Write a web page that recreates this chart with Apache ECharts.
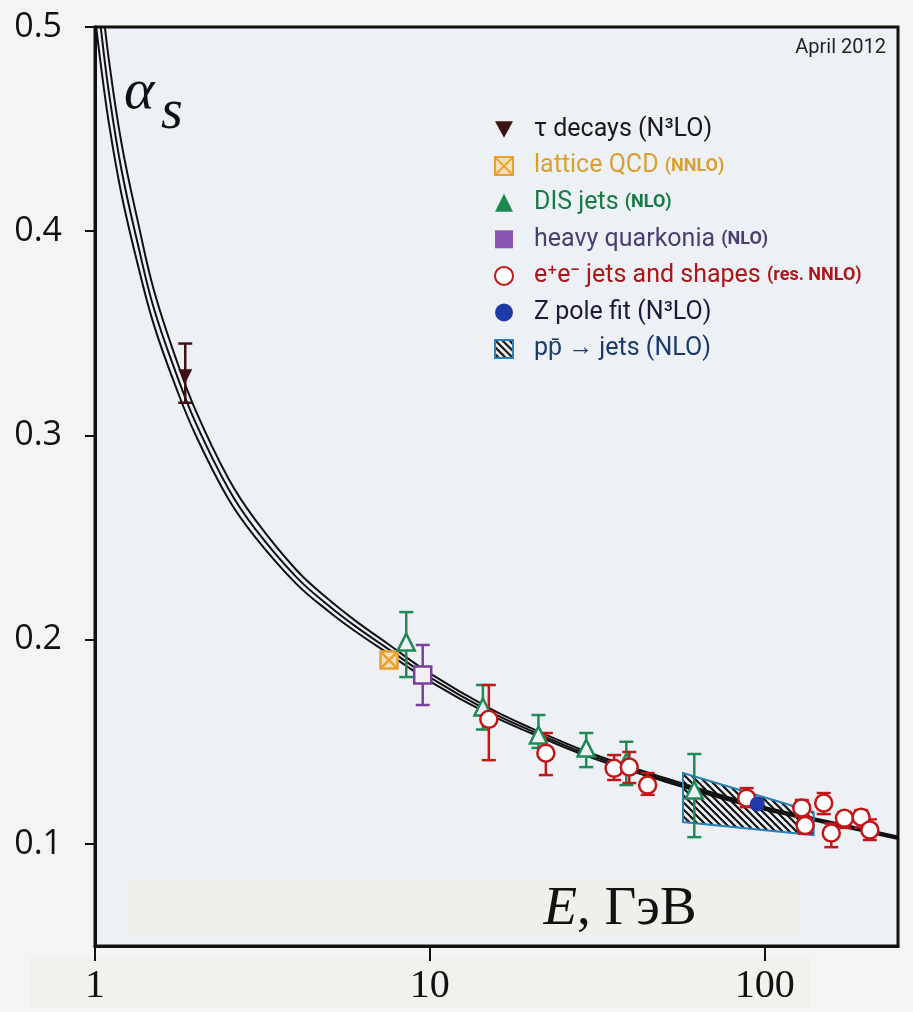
<!DOCTYPE html>
<html>
<head>
<meta charset="utf-8">
<script src="https://cdn.jsdelivr.net/npm/echarts@6/dist/echarts.min.js"></script>
<style>
  html, body { margin: 0; padding: 0; background: #f4f4f4; }
  #main { width: 913px; height: 1012px; }
</style>
</head>
<body>
<div id="main"></div>
<script>
// 坐标轴刻度
var xTicks = [1, 10, 100];
var yTicks = [0.1, 0.2, 0.3, 0.4, 0.5];

// 理论曲线 (读自图片): 中心线和上下边界
var curveE    = [1.0, 1.04, 1.1, 1.2, 1.35, 1.5, 1.75, 2.0, 2.5, 3.0, 4.0, 5.0, 6.0, 7.5, 10, 15, 20, 30, 50, 91.2, 150, 250];
var curveMid  = [0.525, 0.500, 0.468, 0.430, 0.392, 0.362, 0.330, 0.306, 0.274, 0.2545, 0.2305, 0.2165, 0.2065, 0.1955, 0.1815, 0.165, 0.1555, 0.1435, 0.1315, 0.119, 0.111, 0.103];
var curveHigh = [0.548, 0.519, 0.484, 0.443, 0.403, 0.371, 0.337, 0.312, 0.279, 0.259, 0.234, 0.2195, 0.2092, 0.1979, 0.1835, 0.1666, 0.1568, 0.1446, 0.1324, 0.1197, 0.1116, 0.1036];
var curveLow  = [0.505, 0.482, 0.453, 0.418, 0.382, 0.354, 0.323, 0.300, 0.269, 0.2505, 0.2272, 0.2137, 0.204, 0.1933, 0.1796, 0.1635, 0.1543, 0.1425, 0.1307, 0.1183, 0.1104, 0.1024];

// tau decays
var tauE = [1.86];
var tauA = [0.329];
var tauLo = [0.316];
var tauHi = [0.345];

// lattice QCD
var latE = [7.55];
var latA = [0.190];

// DIS jets
var disE  = [8.5, 14.4, 21.1, 29.3, 38.6, 61.6];
var disA  = [0.1988, 0.167, 0.1533, 0.1469, 0.140, 0.1264];
var disLo = [0.1817, 0.156, 0.147, 0.1376, 0.1288, 0.1033];
var disHi = [0.2135, 0.1778, 0.1631, 0.1543, 0.150, 0.144];

// heavy quarkonia
var hqE  = [9.52];
var hqA  = [0.1827];
var hqLo = [0.168];
var hqHi = [0.1974];

// e+e- jets and shapes
var eeE  = [15.0, 22.2, 35.5, 39.4, 44.7, 88.3, 129, 132, 150, 158, 173, 194, 206];
var eeA  = [0.161, 0.1444, 0.137, 0.1376, 0.1288, 0.1224, 0.1176, 0.109, 0.120, 0.1053, 0.1125, 0.1131, 0.1068];
var eeLo = [0.141, 0.1337, 0.1313, 0.1298, 0.124, 0.118, 0.1135, 0.105, 0.1146, 0.0984, 0.1078, 0.108, 0.1019];
var eeHi = [0.1778, 0.1543, 0.1435, 0.145, 0.1347, 0.1273, 0.1215, 0.113, 0.1249, 0.110, 0.1156, 0.1165, 0.112];

// Z pole fit
var zE = [95];
var zA = [0.1195];

// p pbar -> jets 区域 (四个顶点)
var ppE = [57, 140, 140, 57];
var ppA = [0.1347, 0.1156, 0.1043, 0.1107];

var narrow = "Roboto, 'Liberation Sans', sans-serif";
var names = {
	tau: 'τ decays (N³LO)',
	lat: 'lattice QCD (NNLO)',
	dis: 'DIS jets (NLO)',
	hq: 'heavy quarkonia (NLO)',
	ee: 'e⁺e⁻ jets and shapes (res. NNLO)',
	z: 'Z pole fit (N³LO)',
	pp: 'pp̄ → jets (NLO)'
};
var legendRich = {};
legendRich[names.tau] = '{t|τ decays (N³LO)}';
legendRich[names.lat] = '{la|lattice QCD} {las|(NNLO)}';
legendRich[names.dis] = '{di|DIS jets} {dis|(NLO)}';
legendRich[names.hq] = '{hq|heavy quarkonia} {hqs|(NLO)}';
legendRich[names.ee] = '{ee|e⁺e⁻ jets and shapes} {ees|(res. NNLO)}';
legendRich[names.z] = '{z|Z pole fit (N³LO)}';
legendRich[names.pp] = '{pp|pp̄ → jets (NLO)}';

// 图例文字样式
function big(color) {
	return { color: color, fontSize: 25, lineHeight: 20, fontFamily: narrow, padding: [0, 0, 0, 16] };
}
function small(color) {
	return { color: color, fontSize: 18, lineHeight: 20, fontWeight: 'bold', fontFamily: narrow };
}

// 斜线填充
var hatchCanvas = document.createElement('canvas');
hatchCanvas.width = 7;
hatchCanvas.height = 7;
var hctx = hatchCanvas.getContext('2d');
hctx.strokeStyle = '#111';
hctx.lineWidth = 2.2;
hctx.beginPath();
hctx.moveTo(-1, -1); hctx.lineTo(8, 8);
hctx.moveTo(-1, 6); hctx.lineTo(1, 8);
hctx.moveTo(6, -1); hctx.lineTo(8, 1);
hctx.stroke();
var hatch = { image: hatchCanvas, repeat: 'repeat' };

function pairs(xs, ys) {
	return xs.map(function (x, i) { return [x, ys[i]]; });
}

// 误差棒
function errSeries(name, xs, lo, hi, color) {
	return {
		type: 'custom',
		name: name,
		silent: true,
		z: 4,
		data: xs.map(function (x, i) { return [x, lo[i], hi[i]]; }),
		encode: { x: 0, y: [1, 2] },
		renderItem: function (params, api) {
			var a = api.coord([api.value(0), api.value(1)]);
			var b = api.coord([api.value(0), api.value(2)]);
			var h = 7;
			var st = { stroke: color, lineWidth: 2.5 };
			return {
				type: 'group',
				children: [
					{ type: 'line', shape: { x1: a[0], y1: a[1], x2: b[0], y2: b[1] }, style: st },
					{ type: 'line', shape: { x1: a[0] - h, y1: a[1], x2: a[0] + h, y2: a[1] }, style: st },
					{ type: 'line', shape: { x1: b[0] - h, y1: b[1], x2: b[0] + h, y2: b[1] }, style: st }
				]
			};
		}
	};
}

function curveSeries(ys) {
	return {
		type: 'line',
		data: pairs(curveE, ys),
		showSymbol: false,
		smooth: 0.4,
		silent: true,
		z: 2,
		lineStyle: { color: '#111', width: 2 }
	};
}

var chart = echarts.init(document.getElementById('main'));
var option = {
	backgroundColor: '#f4f4f4',
	animation: false,
	grid: {
		left: 95, right: 15, top: 27, bottom: 66,
		outerBoundsMode: 'none',
		show: true,
		backgroundColor: '#edf1f6',
		borderColor: '#111',
		borderWidth: 3
	},
	xAxis: {
		type: 'log',
		logBase: 10,
		min: 1,
		max: 250,
		z: 8,
		axisLine: { lineStyle: { color: '#111', width: 3 } },
		axisTick: { customValues: xTicks, length: 15, lineStyle: { color: '#111', width: 2 } },
		axisLabel: {
			margin: 20,
			interval: 0,
			color: '#111',
			fontSize: 40,
			fontFamily: "'Liberation Serif', serif",
			formatter: function (v) {
				var r = Math.round(v);
				return xTicks.indexOf(r) >= 0 ? String(r) : '';
			}
		},
		splitLine: { show: false },
		minorTick: { show: false }
	},
	yAxis: {
		type: 'value',
		min: 0.05,
		max: 0.5,
		z: 8,
		axisLine: { lineStyle: { color: '#111', width: 3 } },
		axisTick: { customValues: yTicks, length: 10, lineStyle: { color: '#111', width: 2 } },
		axisLabel: {
			customValues: yTicks,
			margin: 33,
			color: '#111',
			fontSize: 34,
			fontFamily: "'Open Sans', sans-serif",
			formatter: function (v) { return v.toFixed(1); }
		},
		splitLine: { show: false }
	},
	legend: {
		orient: 'vertical',
		left: 489,
		top: 112,
		itemWidth: 18,
		itemHeight: 18,
		itemGap: 11.6,
		data: [
			{ name: names.tau, icon: 'path://M0,0L12,0L6,11Z' },
			{ name: names.lat },
			{ name: names.dis, itemStyle: { color: '#1c8a4e', borderWidth: 0 } },
			{ name: names.hq, itemStyle: { color: '#8a54b0', borderWidth: 0 } },
			{ name: names.ee },
			{ name: names.z },
			{ name: names.pp, icon: 'rect' }
		],
		formatter: function (name) { return legendRich[name]; },
		textStyle: {
			fontFamily: narrow,
			fontSize: 25,
			lineHeight: 20,
			rich: {
				t: big('#1a1a1a'),
				la: big('#d9a030'),
				las: small('#d9a030'),
				di: big('#1a7a45'),
				dis: small('#1a7a45'),
				hq: big('#4a4070'),
				hqs: small('#4a4070'),
				ee: big('#a81818'),
				ees: small('#a81818'),
				z: big('#1a1a3a'),
				pp: big('#1a3a6a')
			}
		}
	},
	graphic: [
		{ type: 'rect', z: 1, shape: { x: 125, y: 880, width: 675, height: 55 }, style: { fill: '#f0efeb' } },
		{ type: 'rect', z: 1, shape: { x: 30, y: 956, width: 780, height: 52 }, style: { fill: '#f2f1ee' } },
		{ type: 'text', z: 10, x: 886, y: 48, style: { text: 'April 2012', font: '20px ' + narrow, fill: '#222', align: 'right', verticalAlign: 'middle' } },
		{ type: 'text', z: 10, x: 124, y: 93, style: { text: 'α', font: 'italic 58px "Liberation Serif"', fill: '#111', verticalAlign: 'middle' } },
		{ type: 'text', z: 10, x: 161, y: 113, style: { text: 's', font: 'italic 56px "Liberation Serif"', fill: '#111', verticalAlign: 'middle' } },
		{
			type: 'text', z: 10, x: 620, y: 910,
			style: {
				text: '{i|E}, ГэВ',
				font: '55px "Liberation Serif"',
				fill: '#111',
				align: 'center',
				verticalAlign: 'middle',
				rich: { i: { fontStyle: 'italic', fontSize: 55, fontFamily: 'Liberation Serif', color: '#111' } }
			}
		}
	],
	series: [
		curveSeries(curveHigh),
		curveSeries(curveMid),
		curveSeries(curveLow),
		{
			type: 'custom',
			name: names.pp,
			z: 3,
			data: [[ppE[0], ppA[0]]],
			itemStyle: { color: hatch, borderColor: '#2a80b8', borderWidth: 2 },
			renderItem: function (params, api) {
				var pts = ppE.map(function (e, i) { return api.coord([e, ppA[i]]); });
				return {
					type: 'polygon',
					shape: { points: pts },
					style: { fill: hatch, stroke: '#2a80b8', lineWidth: 2 }
				};
			}
		},
		errSeries('tauErr', tauE, tauLo, tauHi, '#3d1212'),
		errSeries('disErr', disE, disLo, disHi, '#1f8a55'),
		errSeries('hqErr', hqE, hqLo, hqHi, '#7a3f9a'),
		errSeries('eeErr', eeE, eeLo, eeHi, '#c01818'),
		{
			type: 'scatter', name: names.tau, z: 5,
			data: pairs(tauE, tauA),
			symbol: 'triangle', symbolRotate: 180, symbolSize: 14,
			itemStyle: { color: '#3d1212', opacity: 1 }
		},
		{
			type: 'scatter', name: names.lat, z: 5,
			data: pairs(latE, latA),
			symbol: 'path://M0,0L10,0L10,10L0,10Z M0,0L10,10 M10,0L0,10',
			symbolSize: 17,
			itemStyle: { color: '#f6dfb4', borderColor: '#e8a030', borderWidth: 2.5, opacity: 1 }
		},
		{
			type: 'scatter', name: names.dis, z: 5,
			data: pairs(disE, disA),
			symbol: 'triangle', symbolSize: 17,
			itemStyle: { color: '#eef2f5', borderColor: '#1f8a55', borderWidth: 2.5, opacity: 1 }
		},
		{
			type: 'scatter', name: names.hq, z: 5,
			data: pairs(hqE, hqA),
			symbol: 'rect', symbolSize: 17,
			itemStyle: { color: '#f3eef7', borderColor: '#7a3f9a', borderWidth: 2.5, opacity: 1 }
		},
		{
			type: 'scatter', name: names.ee, z: 5,
			data: pairs(eeE, eeA),
			symbol: 'circle', symbolSize: 17,
			itemStyle: { color: '#ffffff', borderColor: '#c01818', borderWidth: 2.5, opacity: 1 }
		},
		{
			type: 'scatter', name: names.z, z: 6,
			data: pairs(zE, zA),
			symbol: 'circle', symbolSize: 15,
			itemStyle: { color: '#1f3aa8', opacity: 1 }
		}
	]
};
chart.setOption(option);
</script>
</body>
</html>
